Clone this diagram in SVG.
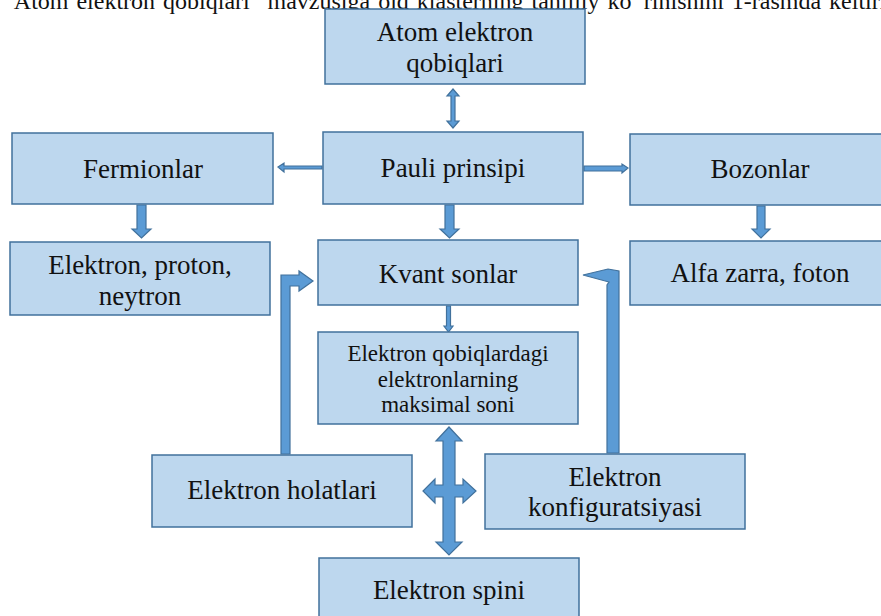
<svg xmlns="http://www.w3.org/2000/svg" width="881" height="616" viewBox="0 0 881 616">
<style>
.box{fill:#BDD7EE;stroke:#41719C;stroke-width:1.5}
text{font-family:'Liberation Serif','DejaVu Serif',serif}
.lbl{font-size:27px;fill:#111;text-anchor:middle}
.sm{font-size:23px}
.arr{fill:#5B9BD5;stroke:#41719C;stroke-width:1.2;stroke-linejoin:miter}
.top{font-size:24px;fill:#111;word-spacing:2px}
</style>
<rect width="881" height="616" fill="#fff"/>
<text class="top" x="4" y="9">"Atom elektron qobiqlari" mavzusiga oid klasterning tahliliy ko 'rinishini 1-rasmda keltirilgan</text>

<g id="connectors">
  <polygon class="arr" points="453,89 459,96 455,96 455,121 459,121 453,128 447,121 451,121 451,96 447,96"/>
  <polygon class="arr" points="278,167 284,163 284,166 322,166 322,169 284,169 284,172"/>
  <polygon class="arr" points="628,168 622,164 622,166 584,166 584,171 622,171 622,173"/>
  <polygon class="arr" points="137,205 146,205 146,229 151,229 141.5,238 132,229 137,229"/>
  <polygon class="arr" points="445,205 454,205 454,229 459,229 449.5,238 440,229 445,229"/>
  <polygon class="arr" points="757,206 765,206 765,229 770,229 761,238 752,229 757,229"/>
  <polygon class="arr" points="446.5,306 450.5,306 450.5,326 453,326 448.5,332 444,326 446.5,326"/>
  <polygon class="arr" points="281,454 281,275 299,275 299,271 313,281 299,291 299,286 290,286 290,454"/>
  <polygon class="arr" points="607,453 619,453 619,271 608,269 583,275 609,282 607,285"/>
  <polygon class="arr" points="449,427 462,441 455,441 455,485 463,485 463,479 476,491 463,503 463,497 455,497 455,542 462,542 449,555 436,542 443,542 443,497 435,497 435,503 423,491 435,479 435,485 443,485 443,441 436,441"/>
</g>

<g id="atom"><rect class="box" x="325" y="9" width="260" height="75"/>
<text class="lbl" x="455" y="41">Atom elektron</text><text class="lbl" x="455" y="72">qobiqlari</text></g>

<g id="pauli"><rect class="box" x="323" y="132" width="260" height="72"/>
<text class="lbl" x="453" y="177">Pauli prinsipi</text></g>

<g id="fermionlar"><rect class="box" x="12" y="133" width="261" height="71"/>
<text class="lbl" x="143" y="178">Fermionlar</text></g>

<g id="bozonlar"><rect class="box" x="630" y="134" width="255" height="71"/>
<text class="lbl" x="760" y="178">Bozonlar</text></g>

<g id="elektron-proton"><rect class="box" x="10" y="242" width="260" height="73"/>
<text class="lbl" x="140" y="274">Elektron, proton,</text><text class="lbl" x="140" y="305">neytron</text></g>

<g id="kvant"><rect class="box" x="318" y="240" width="260" height="65"/>
<text class="lbl" x="448" y="283">Kvant sonlar</text></g>

<g id="alfa"><rect class="box" x="630" y="241" width="255" height="64"/>
<text class="lbl" x="760" y="282">Alfa zarra, foton</text></g>

<g id="maksimal"><rect class="box" x="318" y="332" width="260" height="92"/>
<text class="lbl sm" x="448" y="361">Elektron qobiqlardagi</text>
<text class="lbl sm" x="448" y="387">elektronlarning</text>
<text class="lbl sm" x="448" y="412">maksimal soni</text></g>

<g id="holatlari"><rect class="box" x="152" y="455" width="260" height="72"/>
<text class="lbl" x="282" y="499">Elektron holatlari</text></g>

<g id="konfig"><rect class="box" x="485" y="454" width="260" height="75"/>
<text class="lbl" x="615" y="486">Elektron</text><text class="lbl" x="615" y="516">konfiguratsiyasi</text></g>

<g id="spini"><rect class="box" x="319" y="558" width="260" height="70"/>
<text class="lbl" x="449" y="599">Elektron spini</text></g>
</svg>
